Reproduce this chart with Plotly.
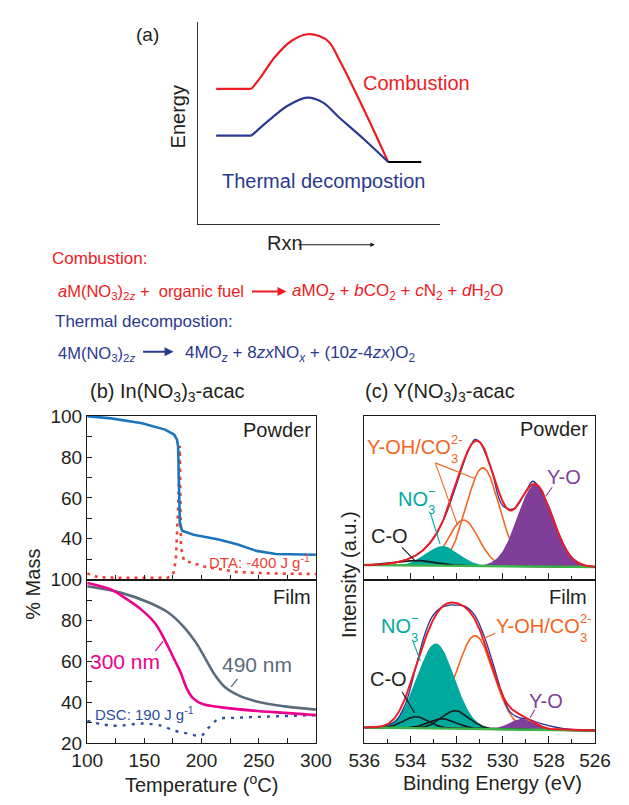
import numpy as np
import plotly.graph_objects as go

W, H = 629, 805
FONT = "Liberation Sans, Arial, Helvetica, sans-serif"
INK = "#231f20"

RED = "#ed1c24"
NAVY = "#2b3990"
TGA_BLUE = "#1c75bc"
DTA_RED = "#ef3e36"
PINK = "#ec008c"
SLATE = "#5b6b7b"
DSC_BLUE = "#2d4ea3"
TEAL = "#00a99d"
PURPLE = "#7f3f98"
ORANGE = "#f26522"
GREEN = "#39b54a"
RAW_BLUE = "#2e3192"

# ---------------- (a) energy profiles, arbitrary units ----------------
comb_flat_x = [6.3, 18.7]
comb_flat_y = [46.3, 46.3]
comb_x = [18.7, 21.7, 27.0, 32.7, 38.3, 42.7, 46.0, 49.3, 58.3, 66.7]
comb_y = [46.3, 50.0, 57.3, 62.7, 65.0, 64.3, 62.3, 56.7, 39.0, 21.3]
therm_flat_x = [6.3, 18.7]
therm_flat_y = [30.3, 30.3]
therm_x = [18.7, 25.0, 31.7, 38.3, 43.7, 49.3, 58.3, 66.7]
therm_y = [30.3, 35.7, 40.7, 43.3, 41.7, 36.7, 29.0, 21.3]
prod_x = [66.7, 78.3]
prod_y = [21.3, 21.3]

# ---------------- (b) In(NO3)3-acac thermal analysis ----------------
powder_T = [100, 121, 148, 168, 176, 178.5, 179.5, 180, 180.5, 181, 183, 193, 215, 231, 248, 265, 300]
powder_mass = [100, 98.9, 96.5, 93.4, 91, 88.5, 85, 75, 60, 48, 44, 42, 39.7, 37.3, 34.1, 32.6, 32.2]
dta_T = [100, 110, 135, 170, 175, 177.5, 179.5, 180.5, 181, 181.5, 182, 184.5, 195, 204, 218, 231, 259, 300]
dta_sig = [23.1, 21.2, 20.9, 20.9, 22.3, 29.4, 55, 75, 85.5, 60, 36, 29.4, 27.5, 26.2, 25, 23.8, 23.1, 22.8]

film300_T = [100, 120.7, 134.6, 148.4, 159.5, 167.8, 176.1, 181.6, 187.1, 192.7, 201, 217.6, 245.2, 272.9, 300]
film300_mass = [98.4, 95.2, 90.5, 84.9, 78.6, 70.6, 61.1, 54.8, 46.8, 42.0, 39.2, 37.6, 36.0, 34.9, 33.8]
film490_T = [100, 129, 153.9, 170.5, 184.4, 195.4, 203.7, 212, 220.3, 231.4, 248, 272.9, 300]
film490_mass = [96.8, 93.7, 88.9, 84.1, 77.0, 69.0, 61.1, 53.2, 47.6, 43.7, 40.5, 38.1, 36.5]
dsc_T = [100, 115.2, 126.3, 148.4, 165, 176.1, 187.1, 199.6, 206.5, 214.8, 231.4, 300]
dsc_sig = [31.0, 29.1, 28.6, 29.7, 28.6, 26.2, 24.9, 23.8, 27.8, 31.8, 32.5, 33.8]

# ---------------- (c) Y(NO3)3-acac O 1s XPS ----------------
# fit components: (centre eV, height a.u., sigma eV)
pw_bg = [0.078, 0.090]            # linear background at 526 and 536 eV
pw_co = [(533.7, 0.030, 0.80)]
pw_no3 = (532.6, 0.120, 0.70)
pw_oh = [(531.7, 0.28, 0.65), (530.86, 0.60, 0.72)]
pw_yo = (528.6, 0.50, 0.76)
pw_be = [536, 535.5, 535, 534.5, 534, 533.5, 533, 532.5, 532, 531.5, 531.2, 531,
         530.5, 530, 529.5, 529, 528.7, 528.5, 528, 527.5, 527, 526.5, 526]
pw_counts = [0.090, 0.091, 0.097, 0.110, 0.133, 0.176, 0.252, 0.386, 0.584, 0.786, 0.858, 0.842,
             0.678, 0.452, 0.434, 0.540, 0.602, 0.580, 0.447, 0.258, 0.135, 0.092, 0.079]

fm_bg = [0.078, 0.097]
fm_co = [(533.75, 0.07, 0.55), (532.6, 0.06, 0.60), (532.05, 0.11, 0.60)]
fm_no3 = (532.9, 0.52, 0.80)
fm_oh = [(531.2, 0.57, 0.80)]
fm_yo = (529.15, 0.065, 0.55)
fm_be = [536, 535.19, 534.64, 534.23, 533.82, 533.41, 533.07, 532.65, 532.3, 532.04, 531.63,
         531.21, 530.8, 530.39, 530.05, 529.7, 529.29, 528.88, 528.33, 527.65, 527, 526]
fm_counts = [0.097, 0.105, 0.137, 0.236, 0.435, 0.653, 0.772, 0.831, 0.845, 0.845, 0.837,
             0.782, 0.653, 0.474, 0.315, 0.196, 0.157, 0.147, 0.121, 0.097, 0.085, 0.081]

be = np.linspace(526, 536, 601)


def peak(p):
    c, a, s = p
    return a * np.exp(-((be - c) ** 2) / (2 * s * s))


fig = go.Figure()


def line(x, y, color, width, ax, dash=None, shape="linear"):
    fig.add_trace(go.Scatter(x=x, y=y, mode="lines", xaxis="x" + ax, yaxis="y" + ax,
                             line=dict(color=color, width=width, dash=dash, shape=shape),
                             hoverinfo="skip", showlegend=False))


def filled(y_top, y_bot, color, ax):
    fig.add_trace(go.Scatter(x=np.concatenate([be, be[::-1]]),
                             y=np.concatenate([y_top, y_bot[::-1]]),
                             mode="lines", fill="toself", fillcolor=color,
                             line=dict(width=0, color=color),
                             xaxis="x" + ax, yaxis="y" + ax,
                             hoverinfo="skip", showlegend=False))


# (a)
line(comb_flat_x, comb_flat_y, RED, 2.2, "")
line(comb_x, comb_y, RED, 2.2, "", shape="spline")
line(therm_flat_x, therm_flat_y, NAVY, 2.2, "")
line(therm_x, therm_y, NAVY, 2.2, "", shape="spline")
line(prod_x, prod_y, "#000000", 2.2, "")

# (b) powder
line(dta_T, dta_sig, DTA_RED, 2.6, "2", dash="3px,5px")
line(powder_T, powder_mass, TGA_BLUE, 2.6, "2")
# (b) film
line(dsc_T, dsc_sig, DSC_BLUE, 2.4, "3", dash="3px,6px", shape="spline")
line(film490_T, film490_mass, SLATE, 2.6, "3", shape="spline")
line(film300_T, film300_mass, PINK, 2.6, "3", shape="spline")


def xps(ax, bg, co, no3, oh, yo, meas_x, meas_y):
    base = np.interp(be, [526, 536], bg)
    comps = []
    for p in oh:
        g = peak(p)
        comps.append(g)
        line(be, base + g, ORANGE, 1.6, ax)
    g = peak(no3)
    comps.append(g)
    filled(base + g, base, TEAL, ax)
    g = peak(yo)
    comps.append(g)
    filled(base + g, base, PURPLE, ax)
    for p in co:
        g = peak(p)
        comps.append(g)
        line(be, base + g, "#1a1a1a", 1.6, ax)
    line(be, base, GREEN, 2.4, ax)
    line(meas_x, meas_y, RAW_BLUE, 1.3, ax, shape="spline")
    line(be, base + np.sum(comps, axis=0), RED, 2.0, ax)


xps("4", pw_bg, pw_co, pw_no3, pw_oh, pw_yo, pw_be, pw_counts)
xps("5", fm_bg, fm_co, fm_no3, fm_oh, fm_yo, fm_be, fm_counts)


def dom_x(p0, p1):
    return [p0 / W, p1 / W]


def dom_y(top, bottom):
    return [1 - bottom / H, 1 - top / H]


frame = dict(showline=True, linecolor="#1a1a1a", linewidth=1.4, mirror=True,
             showgrid=False, zeroline=False, ticks="inside", tickcolor="#1a1a1a",
             tickwidth=1.2, ticklen=5, tickfont=dict(size=19, color=INK, family=FONT))

axis_a = dict(showline=True, linecolor="#333333", linewidth=1.3, showgrid=False,
              zeroline=False, showticklabels=False, ticks="")

b_x = dict(frame, range=[100, 300], domain=dom_x(75, 316), tickmode="array",
           tickvals=[100, 150, 200, 250, 300],
           minor=dict(tickmode="array", tickvals=[125, 175, 225, 275], ticks="inside",
                      ticklen=5, tickcolor="#1a1a1a", tickwidth=1.2))
c_x = dict(frame, range=[536, 526], domain=dom_x(367, 610), tickmode="array",
           tickvals=[526, 528, 530, 532, 534, 536], ticklen=7,
           minor=dict(tickmode="array", tickvals=[527, 529, 531, 533, 535], ticks="inside",
                      ticklen=4, tickcolor="#1a1a1a", tickwidth=1.2))
c_y = dict(frame, range=[0, 1], ticks="", showticklabels=False)

fig.update_layout(
    width=W, height=H, margin=dict(l=0, r=0, t=0, b=0),
    paper_bgcolor="white", plot_bgcolor="white",
    font=dict(family=FONT, color=INK),
    showlegend=False,
    xaxis=dict(axis_a, range=[0, 85], domain=dom_x(192, 447)),
    yaxis=dict(axis_a, range=[0, 69.3], domain=dom_y(12, 220)),
    xaxis2=dict(b_x, anchor="y2", showticklabels=False),
    yaxis2=dict(frame, range=[20, 100], domain=dom_y(417, 585), anchor="x2",
                tickmode="array", tickvals=[40, 60, 80, 100],
                minor=dict(tickmode="array", tickvals=[30, 50, 70, 90], ticks="inside",
                           ticklen=5, tickcolor="#1a1a1a", tickwidth=1.2)),
    xaxis3=dict(b_x, anchor="y3"),
    yaxis3=dict(frame, range=[20, 100], domain=dom_y(585, 753), anchor="x3",
                tickmode="array", tickvals=[20, 40, 60, 80, 100],
                minor=dict(tickmode="array", tickvals=[30, 50, 70, 90], ticks="inside",
                           ticklen=5, tickcolor="#1a1a1a", tickwidth=1.2)),
    xaxis4=dict(c_x, anchor="y4", showticklabels=False),
    yaxis4=dict(c_y, domain=dom_y(417, 585), anchor="x4"),
    xaxis5=dict(c_x, anchor="y5"),
    yaxis5=dict(c_y, domain=dom_y(585, 753), anchor="x5"),
)

ann = []
shapes = []


def text(s, x, y, size=20, color=INK, xanchor="center", yanchor="middle", angle=0):
    ann.append(dict(text=s, x=x / W, y=1 - y / H, xref="paper", yref="paper",
                    xanchor=xanchor, yanchor=yanchor, textangle=angle, showarrow=False,
                    borderpad=0, font=dict(size=size, color=color, family=FONT)))


def arrow(x0, x1, y, color, width, head=2, size=1.0):
    ann.append(dict(text="", x=x1 / W, y=1 - y / H, xref="paper", yref="paper",
                    ax=x0 - x1, ay=0, axref="pixel", ayref="pixel", showarrow=True,
                    arrowhead=head, arrowsize=size, arrowwidth=width, arrowcolor=color))


def leader(x0, y0, x1, y1, color, width=1.1):
    shapes.append(dict(type="line", xref="paper", yref="paper",
                       x0=x0 / W, y0=1 - y0 / H, x1=x1 / W, y1=1 - y1 / H,
                       line=dict(color=color, width=width)))


def stacked(main, right, y, sup, sub, color, size=20, small=13):
    # charge and count set one above the other after the formula
    text(main, right, y, size, color, xanchor="right")
    text(sup, right - 2, y - 8, small, color, xanchor="left")
    text(sub, right - 2, y + 11, small, color, xanchor="left")


# (a) labels
text("(a)", 139, 25, 19)
text("Energy", 171, 110, 20, angle=-90)
text("Combustion", 365, 75, 20, RED, xanchor="left")
text("Thermal decompostion", 324, 176, 20, NAVY)
text("Rxn", 263, 239, 20, xanchor="left")
arrow(300, 378, 241, "#1a1a1a", 1.1, head=2, size=0.8)

# reactions
EQ = 16.5
text("Combustion:", 37, 255, 17, RED, xanchor="left")
text("<i>a</i>M(NO<sub>3</sub>)<sub>2<i>z</i></sub> +  organic fuel", 43, 290, EQ, RED,
     xanchor="left")
arrow(249, 285, 289, RED, 2.0, head=2, size=0.9)
text("<i>a</i>MO<sub><i>z</i></sub> + <i>b</i>CO<sub>2</sub> + <i>c</i>N<sub>2</sub>"
     " + <i>d</i>H<sub>2</sub>O", 290, 290, 17, RED, xanchor="left")
text("Thermal decompostion:", 40, 320, 17, NAVY, xanchor="left")
text("4M(NO<sub>3</sub>)<sub>2<i>z</i></sub>", 43, 353, EQ, NAVY, xanchor="left")
arrow(134, 166, 351, NAVY, 2.0, head=2, size=0.9)
text("4MO<sub><i>z</i></sub> + 8<i>zx</i>NO<sub><i>x</i></sub> + (10<i>z</i>-4<i>zx</i>)O<sub>2</sub>",
     177, 353, 17, NAVY, xanchor="left")

# (b) labels
text("(b) In(NO<sub>3</sub>)<sub>3</sub>-acac", 160, 393, 20)
text("Powder", 312, 431, 20, xanchor="right")
text("DTA: -400 J g<sup>-1</sup>", 257, 566, 15, DTA_RED)
text("Film", 312, 603, 20, xanchor="right")
text("300 nm", 115, 669, 21, PINK)
leader(146.7, 658.3, 155, 648.3, PINK, 1.3)
text("490 nm", 254, 672, 21, SLATE)
leader(226.7, 695, 233.3, 686.7, SLATE, 1.3)
text("DSC: 190 J g<sup>-1</sup>", 135, 722, 15, DSC_BLUE)
text("% Mass", 17, 590, 20, angle=-90)
text("Temperature (<sup>o</sup>C)", 195, 794, 20)

# (c) labels
text("(c) Y(NO<sub>3</sub>)<sub>3</sub>-acac", 447, 393, 20)
text("Powder", 604, 430, 20, xanchor="right")
stacked("Y-OH/CO", 459, 449, "2-", "3", ORANGE)
leader(441.7, 465, 483.3, 481, ORANGE)
leader(441.7, 465, 465, 528.3, ORANGE)
stacked("NO", 435, 502, "\u2212", "3", TEAL)
leader(436.7, 516.7, 446.7, 548.3, TEAL)
text("C-O", 394, 540, 20)
leader(406.7, 551.7, 420, 565, "#1a1a1a")
text("Y-O", 577, 479, 20, PURPLE)
leader(565, 490, 558.3, 499, PURPLE)

text("Film", 603, 603, 20, xanchor="right")
stacked("NO", 417, 633, "\u2212", "3", TEAL)
leader(418.3, 648.3, 426, 668.3, TEAL)
stacked("Y-OH/CO", 595, 633, "2-", "3", ORANGE)
leader(505, 640, 490, 646.7, ORANGE)
text("C-O", 392, 687, 20)
leader(406.7, 700, 420, 721.7, "#1a1a1a")
text("Y-O", 558, 709, 20, PURPLE)
leader(546.7, 718.3, 541.7, 726.7, PURPLE)
text("Intensity (a.u.)", 351, 580, 20, angle=-90)
text("Binding Energy (eV)", 502, 794, 20)

fig.update_layout(annotations=ann, shapes=shapes)
# the page has no surrounding margin so the figure fills the window exactly
fig.write_html("out.html",
               post_script="document.body.style.margin='0';"
                           "document.body.style.overflow='hidden';")
